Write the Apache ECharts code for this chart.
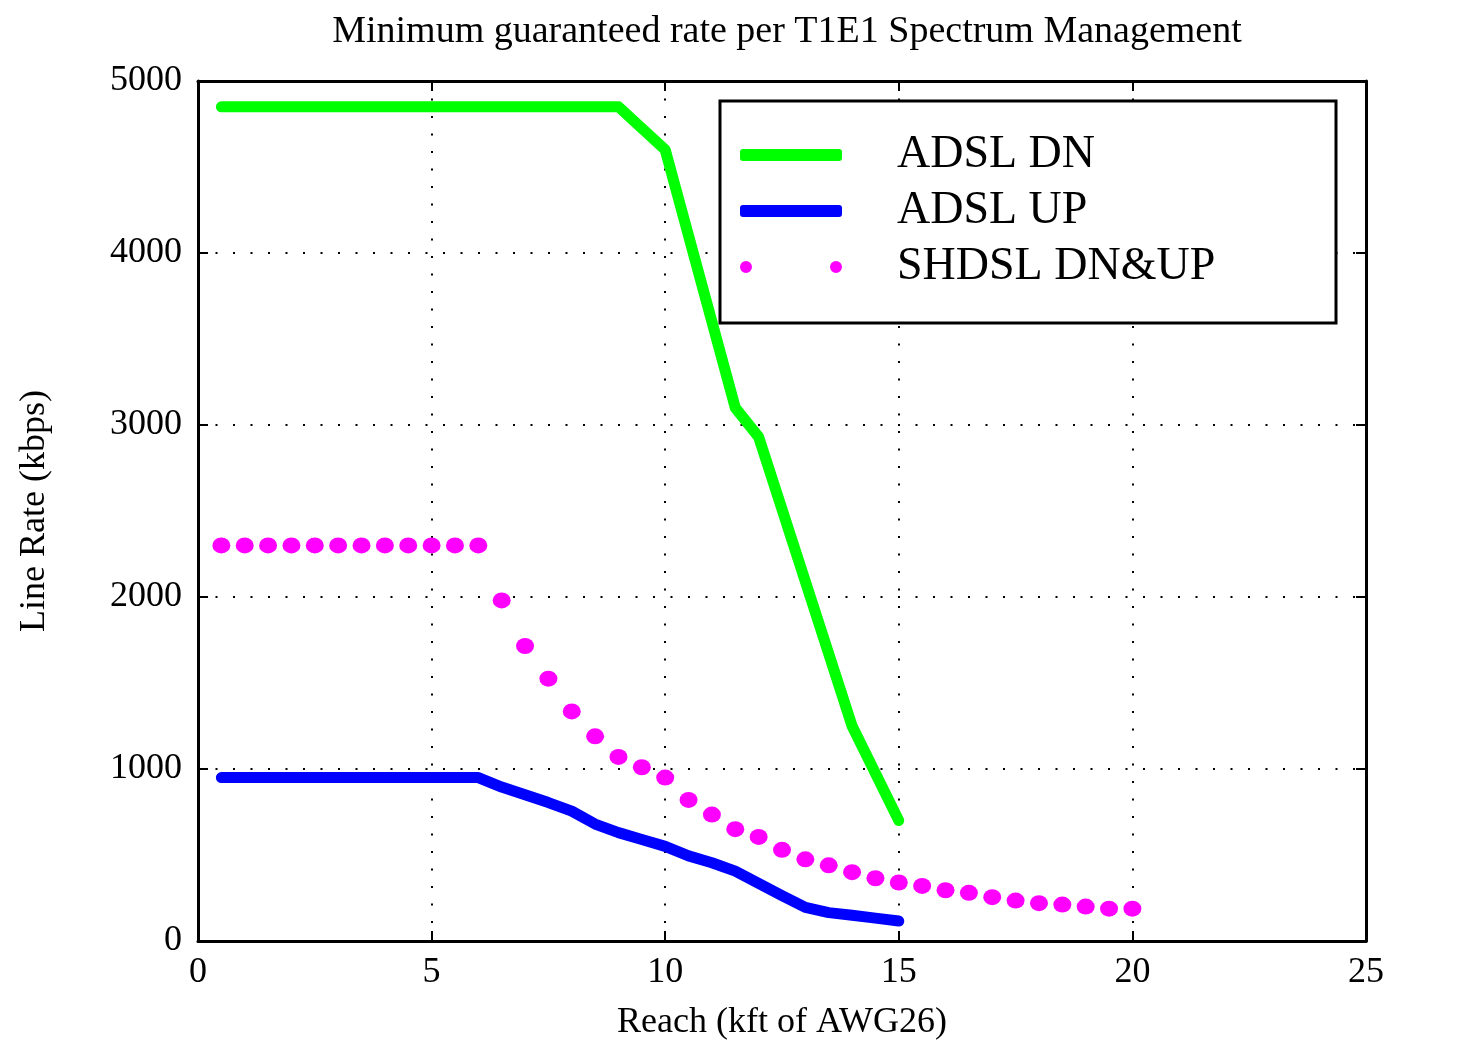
<!DOCTYPE html>
<html>
<head>
<meta charset="utf-8">
<title>Minimum guaranteed rate per T1E1 Spectrum Management</title>
<script src="https://cdn.jsdelivr.net/npm/echarts@6/dist/echarts.min.js"></script>
<style>
  html, body { margin: 0; padding: 0; background: #fff; }
  #charts { width: 1459px; height: 1046px; }
</style>
</head>
<body>
<div id="charts"></div>
<script>
var serif = '"Liberation Serif", "DejaVu Serif", serif';

// ADSL downstream
var adslDnReach = [0.5, 9, 10, 11.5, 12, 14, 15];
var adslDnRate  = [4850, 4850, 4600, 3100, 2930, 1250, 700];

// ADSL upstream
var adslUpReach = [0.5, 6, 6.5, 7, 7.5, 8, 8.5, 9, 9.5, 10, 10.5, 11, 11.5, 12, 12.5, 13, 13.5, 14, 14.5, 15];
var adslUpRate  = [950, 950, 895, 850, 805, 755, 680, 630, 590, 550, 495, 455, 406, 335, 264, 195, 165, 150, 133, 116];

// SHDSL (same rate both directions)
var shdslReach = [0.5, 1, 1.5, 2, 2.5, 3, 3.5, 4, 4.5, 5, 5.5, 6, 6.5, 7, 7.5, 8, 8.5, 9, 9.5, 10,
                  10.5, 11, 11.5, 12, 12.5, 13, 13.5, 14, 14.5, 15, 15.5, 16, 16.5, 17, 17.5, 18, 18.5, 19, 19.5, 20];
var shdslRate  = [2300, 2300, 2300, 2300, 2300, 2300, 2300, 2300, 2300, 2300, 2300, 2300, 1980, 1715, 1525, 1335, 1190, 1070, 1010, 950,
                  820, 735, 650, 605, 530, 475, 440, 400, 365, 340, 320, 295, 280, 255, 235, 220, 212, 200, 188, 188];

var xTicks = [0, 5, 10, 15, 20, 25];
var yTicks = [0, 1000, 2000, 3000, 4000, 5000];

function pairs(xs, ys) {
    return xs.map(function (x, i) { return [x, ys[i]]; });
}

var myChart = echarts.init(document.getElementById('charts'));

var axisBase = {
    type: 'value',
    axisLine: { show: true, onZero: false, lineStyle: { color: '#000', width: 3 } },
    axisTick: { show: true, inside: true, length: 10, lineStyle: { color: '#000', width: 2 } }
};

var option = {
    backgroundColor: '#fff',
    animation: false,
    title: {
        text: 'Minimum guaranteed rate per T1E1 Spectrum Management',
        left: 782,
        top: 8,
        textAlign: 'center',
        textStyle: { fontFamily: serif, fontSize: 38, fontWeight: 'normal', color: '#000' }
    },
    grid: { left: 198, right: 93, top: 81, bottom: 105 },
    graphic: [{
        type: 'rect',
        z: 3,
        shape: { x: 720, y: 101, width: 616, height: 222 },
        style: { fill: '#fff', stroke: '#000', lineWidth: 3 }
    }],
    legend: {
        orient: 'vertical',
        left: 740,
        top: 132,
        padding: 0,
        itemWidth: 102,
        itemHeight: 12,
        itemGap: 10,
        z: 5,
        textStyle: { fontFamily: serif, fontSize: 46, lineHeight: 46, color: '#000', padding: [0, 0, 0, 50] },
        data: [
            { name: 'ADSL DN', icon: 'roundRect' },
            { name: 'ADSL UP', icon: 'roundRect' },
            { name: 'SHDSL DN&UP', icon: 'path://M0,6a6,6 0 1,0 12,0a6,6 0 1,0 -12,0zM90,6a6,6 0 1,0 12,0a6,6 0 1,0 -12,0z' }
        ]
    },
    xAxis: [
        Object.assign({}, axisBase, {
            position: 'bottom',
            min: xTicks[0], max: xTicks[xTicks.length - 1], interval: 5,
            name: 'Reach (kft of AWG26)',
            nameLocation: 'middle',
            nameGap: 64,
            nameTextStyle: { fontFamily: serif, fontSize: 36, color: '#000' },
            axisLabel: { fontFamily: serif, fontSize: 36, color: '#000', margin: 14 },
            splitLine: { show: true, lineStyle: { color: '#000', width: 2, type: [2, 15.5] } }
        }),
        Object.assign({}, axisBase, {
            position: 'top',
            min: xTicks[0], max: xTicks[xTicks.length - 1], interval: 5,
            axisLabel: { show: false },
            splitLine: { show: false }
        })
    ],
    yAxis: [
        Object.assign({}, axisBase, {
            position: 'left',
            min: yTicks[0], max: yTicks[yTicks.length - 1], interval: 1000,
            name: 'Line Rate (kbps)',
            nameLocation: 'middle',
            nameGap: 145,
            nameTextStyle: { fontFamily: serif, fontSize: 36, color: '#000' },
            axisLabel: {
                fontFamily: serif, fontSize: 36, color: '#000', margin: 16,
                formatter: function (v) { return String(v); }
            },
            splitLine: { show: true, lineStyle: { color: '#000', width: 2, type: [2, 15.5] } }
        }),
        Object.assign({}, axisBase, {
            position: 'right',
            min: yTicks[0], max: yTicks[yTicks.length - 1], interval: 1000,
            axisLabel: { show: false },
            splitLine: { show: false }
        })
    ],
    series: [
        {
            name: 'ADSL DN',
            type: 'line',
            color: '#00ff00',
            symbol: 'none',
            lineStyle: { width: 11, cap: 'round', join: 'round' },
            data: pairs(adslDnReach, adslDnRate)
        },
        {
            name: 'ADSL UP',
            type: 'line',
            color: '#0000ff',
            symbol: 'none',
            lineStyle: { width: 11, cap: 'round', join: 'round' },
            data: pairs(adslUpReach, adslUpRate)
        },
        {
            name: 'SHDSL DN&UP',
            type: 'scatter',
            color: '#ff00ff',
            symbol: 'circle',
            symbolSize: [18, 16],
            itemStyle: { opacity: 1 },
            data: pairs(shdslReach, shdslRate)
        }
    ]
};

myChart.setOption(option);
</script>
</body>
</html>
